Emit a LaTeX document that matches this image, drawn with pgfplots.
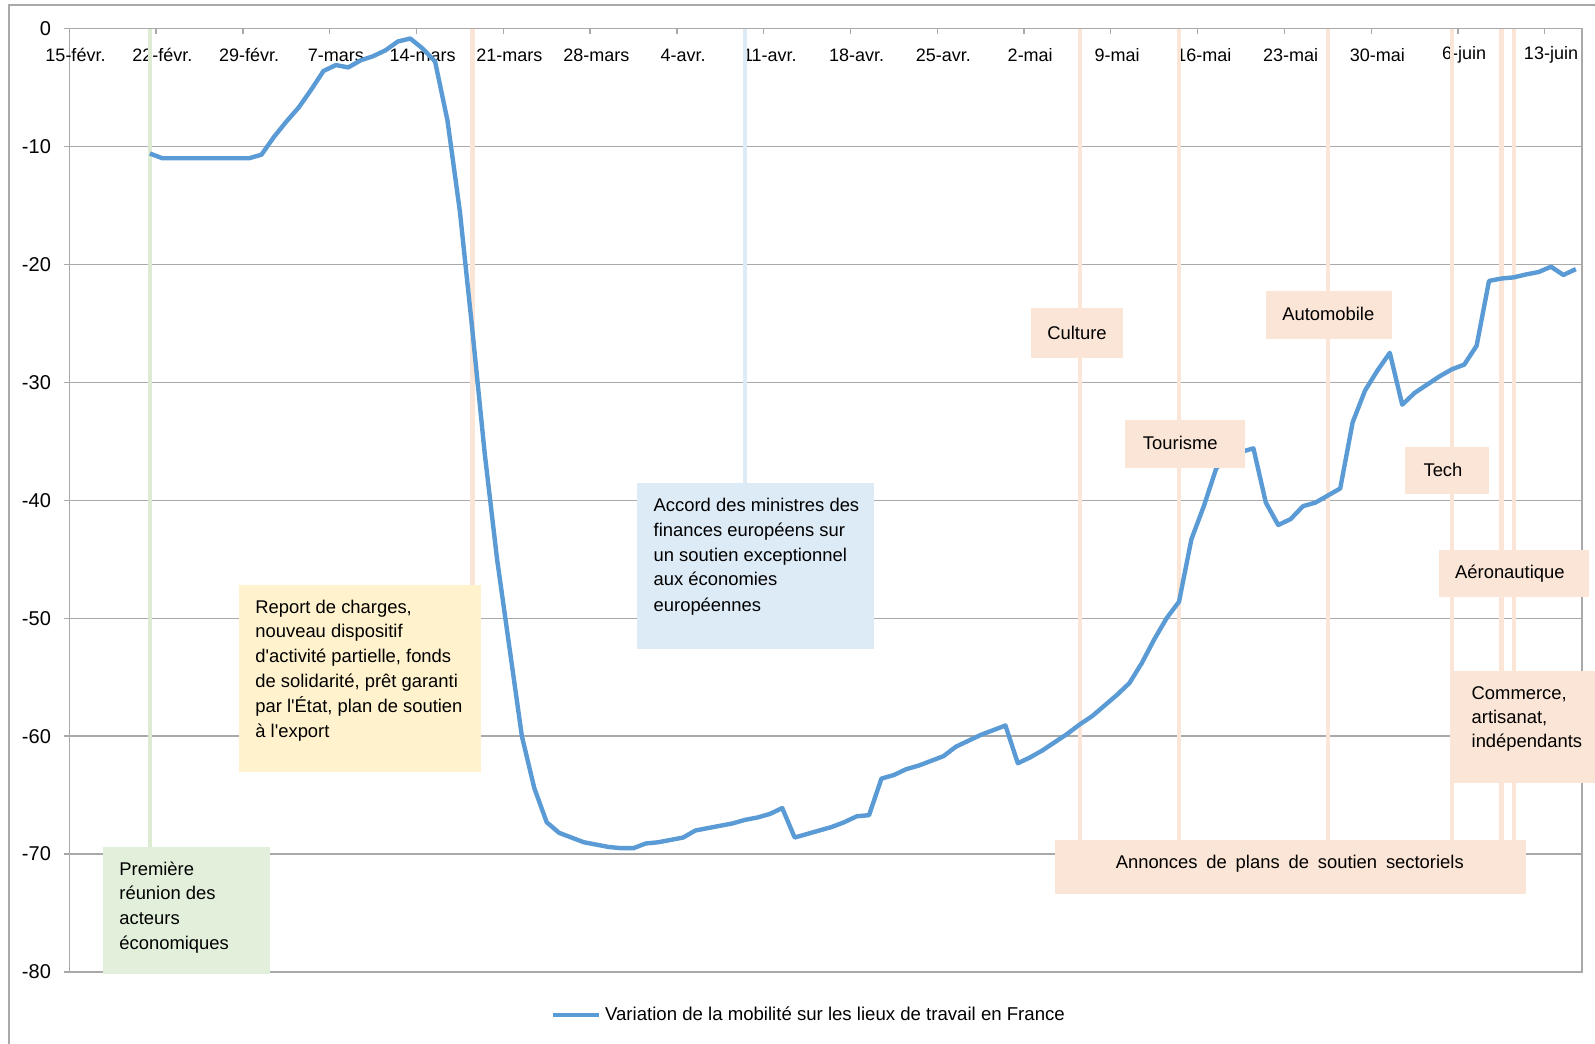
\documentclass[border=0pt]{standalone}
\usepackage{fontspec}
\setmainfont{Liberation Sans}
\usepackage{pgfplots}
\pgfplotsset{compat=1.18}
\pgfplotsset{layers/labelstop/.define layer set={axis background,axis grid,axis ticks,axis lines,pre main,main,axis tick labels,axis descriptions,axis foreground}{}}
\definecolor{gridgray}{HTML}{A9A9A9}
\definecolor{mobblue}{HTML}{5B9BD5}
\definecolor{boxgreen}{HTML}{E2EFDA}
\definecolor{linegreen}{HTML}{DCEBD2}
\definecolor{boxyellow}{HTML}{FFF2CC}
\definecolor{boxblue}{HTML}{DDEBF7}
\definecolor{boxorange}{HTML}{FBE5D6}
\newcommand{\boxfont}{\fontsize{9.2bp}{11bp}\selectfont}
\begin{document}
\begin{tikzpicture}
\begin{axis}[
  set layers=labelstop,
  width=756.35bp, height=471.75bp, scale only axis,
  xmin=-0.5, xmax=121.5, ymin=-80, ymax=0,
  axis line style={draw=gridgray, line width=0.65bp},
  ymajorgrids, grid style={draw=gridgray, line width=0.65bp},
  xtick={-0.5,6.5,...,118.5},
  xticklabels={15-févr.,22-févr.,29-févr.,7-mars,14-mars,21-mars,28-mars,4-avr.,11-avr.,18-avr.,25-avr.,2-mai,9-mai,16-mai,23-mai,30-mai,6-juin,13-juin},
  ytick={-80,-70,...,0},
  yticklabels={-80,-70,-60,-50,-40,-30,-20,-10,0},
  xtick pos=right, xticklabel pos=right, ytick pos=left,
  tick align=inside,
  major tick length=2.5bp,
  tick style={draw=gridgray, line width=0.65bp},
  ytick style={xshift=-2.5bp},
  xticklabel style={anchor=center, yshift=-13.25bp, xshift=3.1bp, font=\fontsize{9bp}{11bp}\selectfont},
  yticklabel style={anchor=east, inner sep=0pt, xshift=-9bp, font=\fontsize{10bp}{12bp}\selectfont},
  clip=false,
  legend style={at={(0.4895,-0.0456)}, anchor=center, draw=none, fill=none,
    font=\fontsize{9.3bp}{11bp}\selectfont, inner sep=0pt},
  legend image code/.code={\draw[#1] (0bp,0bp) -- (23bp,0bp);},
]
% event lines
\addplot[forget plot, draw=linegreen, line width=2.3bp] coordinates {(6,0) (6,-69.4)};
\addplot[forget plot, draw=boxorange, line width=2.3bp] coordinates {(32,0) (32,-47.2)};
\addplot[forget plot, draw=boxblue, line width=2.3bp] coordinates {(54,0) (54,-38.6)};
\addplot[forget plot, draw=boxorange, line width=2.3bp] coordinates {(81,0) (81,-68.8)};
\addplot[forget plot, draw=boxorange, line width=2.3bp] coordinates {(89,0) (89,-68.8)};
\addplot[forget plot, draw=boxorange, line width=2.3bp] coordinates {(101,0) (101,-68.8)};
\addplot[forget plot, draw=boxorange, line width=2.3bp] coordinates {(111,0) (111,-68.8)};
\addplot[forget plot, draw=boxorange, line width=2.3bp] coordinates {(115,0) (115,-68.8)};
\addplot[forget plot, draw=boxorange, line width=2.3bp] coordinates {(116,0) (116,-68.8)};
% mobility series (day 0 = 15 Feb 2020)
\addplot[draw=mobblue, line width=2.2bp, line join=round, mark=none] table {
d v
6 -10.6
7 -11.0
8 -11.0
9 -11.0
10 -11.0
11 -11.0
12 -11.0
13 -11.0
14 -11.0
15 -10.7
16 -9.2
17 -7.9
18 -6.7
19 -5.2
20 -3.6
21 -3.1
22 -3.3
23 -2.7
24 -2.35
25 -1.85
26 -1.1
27 -0.85
28 -1.7
29 -2.8
30 -7.8
31 -15.5
32 -25.5
33 -36
34 -45
35 -52.5
36 -60
37 -64.4
38 -67.3
39 -68.2
40 -68.6
41 -69.0
42 -69.2
43 -69.4
44 -69.5
45 -69.5
46 -69.1
47 -69.0
48 -68.8
49 -68.6
50 -68.0
51 -67.8
52 -67.6
53 -67.4
54 -67.1
55 -66.9
56 -66.6
57 -66.1
58 -68.6
59 -68.3
60 -68.0
61 -67.7
62 -67.3
63 -66.8
64 -66.7
65 -63.6
66 -63.3
67 -62.8
68 -62.5
69 -62.1
70 -61.7
71 -60.9
72 -60.4
73 -59.9
74 -59.5
75 -59.1
76 -62.3
77 -61.8
78 -61.2
79 -60.5
80 -59.8
81 -59.0
82 -58.3
83 -57.4
84 -56.5
85 -55.5
86 -53.8
87 -51.8
88 -50.0
89 -48.6
90 -43.3
91 -40.5
92 -37.3
93 -36.2
94 -35.9
95 -35.6
96 -40.2
97 -42.1
98 -41.6
99 -40.5
100 -40.2
101 -39.6
102 -39.0
103 -33.4
104 -30.7
105 -29.0
106 -27.5
107 -31.9
108 -30.9
109 -30.2
110 -29.5
111 -28.9
112 -28.5
113 -26.9
114 -21.4
115 -21.2
116 -21.1
117 -20.85
118 -20.65
119 -20.2
120 -20.9
121 -20.4
};
\addlegendentry{Variation de la mobilité sur les lieux de travail en France}
\end{axis}
% annotations in pixel coordinates of the reference
\begin{scope}[x=0.5bp, y=-0.5bp, shift={(-34.65bp,486bp)}]
\draw[gridgray, line width=0.65bp] (9,1044) -- (9,5) -- (1595,5);
\fill[boxgreen] (102.7,847) rectangle (269.6,974.5);
\fill[boxyellow] (239.3,585) rectangle (480.7,771.7);
\fill[boxblue] (636.7,483.3) rectangle (874,649);
\fill[boxorange] (1031.5,308.3) rectangle (1122.6,358.3);
\fill[boxorange] (1125.2,420) rectangle (1244.8,468.3);
\fill[boxorange] (1266.4,290.7) rectangle (1391.6,339.3);
\fill[boxorange] (1405.3,447.3) rectangle (1488.8,494.3);
\fill[boxorange] (1439,550) rectangle (1589,597.3);
\fill[boxorange] (1454.3,670.7) rectangle (1595,782.7);
\fill[boxorange] (1055,840) rectangle (1525.6,894);
\tikzset{lt/.style={anchor=base west, inner sep=0pt, font=\boxfont}, ct/.style={anchor=base, inner sep=0pt, font=\boxfont}}
% green
\node[lt] at (119,875.8) {Première};
\node[lt] at (119,899.8) {réunion des};
\node[lt] at (119,924.8) {acteurs};
\node[lt] at (119,949.8) {économiques};
% yellow
\node[lt] at (255,613.2) {Report de charges,};
\node[lt] at (255,637.5) {nouveau dispositif};
\node[lt] at (255,662.5) {d\textquotesingle activité partielle, fonds};
\node[lt] at (255,687.5) {de solidarité, prêt garanti};
\node[lt] at (255,712.5) {par l\textquotesingle État, plan de soutien};
\node[lt] at (255,737.5) {à l\textquotesingle export};
% blue
\node[lt] at (653.3,511.5) {Accord des ministres des};
\node[lt] at (653.3,536.5) {finances européens sur};
\node[lt] at (653.3,561.5) {un soutien exceptionnel};
\node[lt] at (653.3,586) {aux économies};
\node[lt] at (653.3,611.5) {européennes};
% sectors
\node[ct] at (1077,339.3) {Culture};
\node[ct] at (1180.3,450) {Tourisme};
\node[ct] at (1328.3,320.7) {Automobile};
\node[ct] at (1443,476.7) {Tech};
\node[ct] at (1509.9,578.3) {Aéronautique};
\node[lt] at (1471.3,699.3) {Commerce,};
\node[lt] at (1471.3,723.3) {artisanat,};
\node[lt] at (1471.3,747.7) {indépendants};
\node[ct] at (1289.8,868.3) {\makebox[174bp][s]{Annonces de plans de soutien sectoriels}};
\end{scope}
\pgfresetboundingbox
\path[use as bounding box] (-34.65bp,-36bp) rectangle (762.85bp,486bp);
\end{tikzpicture}
\end{document}
